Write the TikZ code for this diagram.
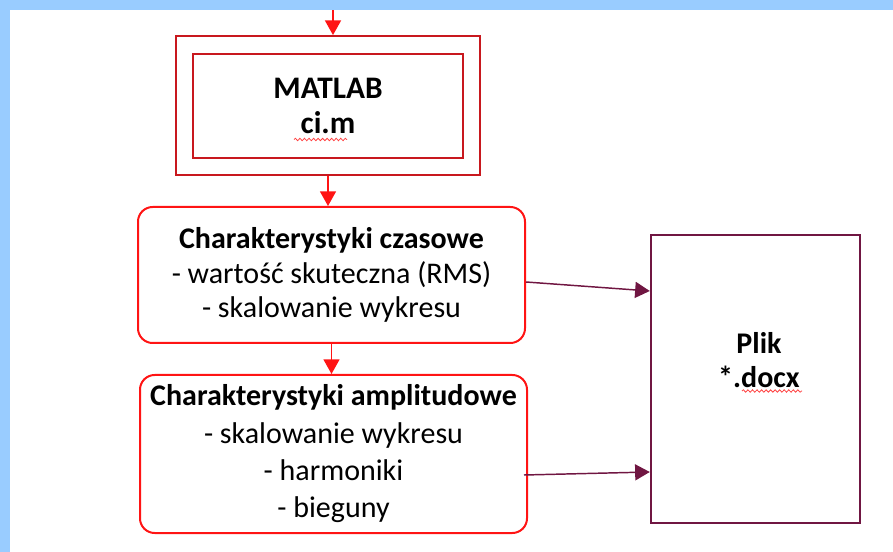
\documentclass[tikz,border=0pt]{standalone}
\usepackage{fontspec}
\setmainfont{Carlito}
\usetikzlibrary{arrows.meta,decorations.pathmorphing}
\definecolor{bandblue}{RGB}{153,204,255}
\definecolor{darkred}{RGB}{200,24,30}
\definecolor{brightred}{RGB}{255,20,20}
\definecolor{plum}{RGB}{112,22,66}
\tikzset{
  outerbox/.style={draw=darkred,line width=1.6pt,minimum width=228pt,minimum height=104pt,inner sep=0pt},
  innerbox/.style={draw=darkred,line width=1.6pt,minimum width=202.5pt,minimum height=78pt,align=center,font=\fontsize{23.5}{26.5}\selectfont\bfseries},
  roundbox/.style={draw=brightred,line width=1.5pt,rounded corners=11pt,align=center,inner sep=0pt},
  filebox/.style={draw=plum,line width=1.8pt,minimum width=156.75pt,minimum height=216pt,inner sep=0pt},
  redarrow/.style={draw=brightred,line width=1.1pt,-{Triangle[length=11pt,width=12pt]},fill=brightred},
  plumarrow/.style={draw=plum,line width=1.1pt,-{Triangle[length=11pt,width=12pt]},fill=plum},
  spell/.style={draw=red!75,line width=0.6pt,decorate,decoration={snake,segment length=3.4pt,amplitude=0.9pt}}
}
\begin{document}
\begin{tikzpicture}[x=0.75pt,y=-0.75pt]
\useasboundingbox (0,0) rectangle (893,552);
\fill[bandblue] (0,0) rectangle (893,10.5);
\fill[bandblue] (0,0) rectangle (10,552);

\node[outerbox] (outer) at (328,105.5) {};
\node[innerbox] (inner) at (328,106) {MATLAB\\ci.m};

\node[roundbox,minimum width=290.25pt,minimum height=102pt,
  font=\fontsize{22.5}{26}\selectfont] (czas) at (331.5,275)
  {\textbf{Charakterystyki czasowe}\\- wartość skuteczna (RMS)\\- skalowanie wykresu};

\node[roundbox,minimum width=290.25pt,minimum height=118.5pt,
  font=\fontsize{22.5}{28}\selectfont] (ampl) at (333.5,454)
  {\textbf{Charakterystyki amplitudowe}\\- skalowanie wykresu\\- harmoniki\\- bieguny};

\node[filebox] (plik) at (755.5,379) {};
\node[align=center,font=\fontsize{22.5}{26}\selectfont\bfseries] (pliktext) at (759,360) {Plik\\*.docx};

\coordinate (topin) at (333,10.5);
\draw[redarrow] (topin) -- (topin |- outer.north);
\draw[redarrow] (outer.south) -- (outer.south |- czas.north);
\draw[redarrow] (czas.south) -- (czas.south |- ampl.north);

\draw[plumarrow] ([yshift=-5.25pt]czas.east) -- ([yshift=66pt]plik.west);
\draw[plumarrow] ([xshift=-3pt,yshift=-15.75pt]ampl.east) -- ([yshift=-69.75pt]plik.west);

\draw[spell] (294,139.5) -- (347,139.5);
\draw[spell] (742,391) -- (802,391);
\end{tikzpicture}
\end{document}
